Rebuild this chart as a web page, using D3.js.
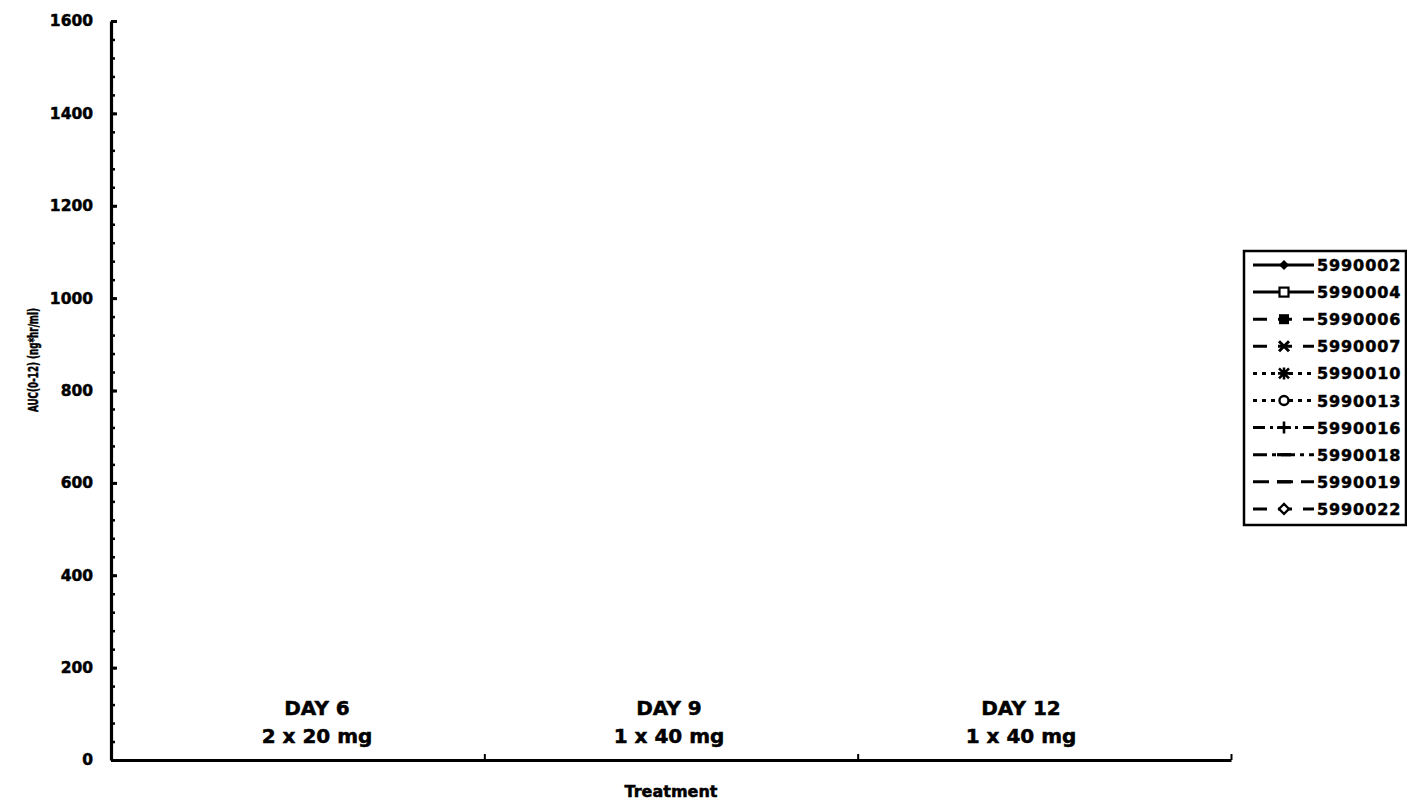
<!DOCTYPE html>
<html>
<head>
<meta charset="utf-8">
<script src="https://cdn.jsdelivr.net/npm/d3@7"></script>
<style>
  html, body { margin: 0; padding: 0; background: #fff; }
  svg text { font-family: "DejaVu Sans", "Liberation Sans", sans-serif; font-weight: bold; fill: #000; stroke: #000; stroke-width: 0.5px; }
</style>
</head>
<body>
<svg id="chart" width="1407" height="802"></svg>
<script>
// Treatment periods (x categories)
const treatments = ["DAY 6", "DAY 9", "DAY 12"];
const doses = ["2 x 20 mg", "1 x 40 mg", "1 x 40 mg"];

// Subjects shown in the legend
const subjects = ["5990002", "5990004", "5990006", "5990007", "5990010",
                  "5990013", "5990016", "5990018", "5990019", "5990022"];

// AUC(0-12) per subject for DAY 6, DAY 9, DAY 12 (no values plotted)
const auc5990002 = [null, null, null];
const auc5990004 = [null, null, null];
const auc5990006 = [null, null, null];
const auc5990007 = [null, null, null];
const auc5990010 = [null, null, null];
const auc5990013 = [null, null, null];
const auc5990016 = [null, null, null];
const auc5990018 = [null, null, null];
const auc5990019 = [null, null, null];
const auc5990022 = [null, null, null];
const aucSeries = [auc5990002, auc5990004, auc5990006, auc5990007, auc5990010,
                   auc5990013, auc5990016, auc5990018, auc5990019, auc5990022];

// Axis ticks
const yMajorTicks = [0, 200, 400, 600, 800, 1000, 1200, 1400, 1600];
const yMinorTicks = d3.range(0, 1601, 40);

// Line / marker style per subject
const styles = [
  { dash: null,         marker: "diamondFilled" },
  { dash: null,         marker: "squareOpen" },
  { dash: "14,11",      marker: "squareFilled" },
  { dash: "14,11",      marker: "cross" },
  { dash: "4,5",        marker: "star" },
  { dash: "4,5",        marker: "circleOpen" },
  { dash: "12,5,3,5",   marker: "plus" },
  { dash: "14,5,4,5",   marker: "dash" },
  { dash: "16,8",       marker: "dash" },
  { dash: "14,11",      marker: "diamondOpen" }
];

const svg = d3.select("#chart");
const plotLeft = 111, plotRight = 1231, plotTop = 21, plotBottom = 760;

const y = d3.scaleLinear().domain([0, 1600]).range([plotBottom, plotTop]);
const x = d3.scaleBand().domain(treatments).range([plotLeft, plotRight]);
const xEdge = d3.scaleLinear().domain([0, treatments.length]).range([plotLeft, plotRight]);
const xLabel = d3.scalePoint().domain(treatments).range([317, 1021]);

// Minor y ticks
svg.append("g")
  .attr("transform", `translate(${plotLeft},0)`)
  .call(d3.axisLeft(y).tickValues(yMinorTicks).tickSize(-4).tickSizeOuter(0).tickFormat(""))
  .call(g => g.select(".domain").remove())
  .call(g => g.selectAll("line").attr("stroke", "#000").attr("stroke-width", 2.5));

// Major y ticks and labels
const yAxis = svg.append("g")
  .attr("transform", `translate(${plotLeft},0)`)
  .call(d3.axisLeft(y).tickValues(yMajorTicks).tickFormat(d3.format("d"))
    .tickSize(-6).tickSizeOuter(0).tickPadding(18));
yAxis.select(".domain").attr("stroke", "#000").attr("stroke-width", 3.2);
yAxis.selectAll("line").attr("stroke", "#000").attr("stroke-width", 3);
yAxis.selectAll("text")
  .attr("font-size", null)
  .style("font-size", "15.5px")
  .style("font-family", "'DejaVu Sans', sans-serif")
  .style("font-weight", "bold")
  .attr("fill", "#000");

// X axis with ticks at category boundaries
const xAxis = svg.append("g")
  .attr("transform", `translate(0,${plotBottom})`)
  .call(d3.axisBottom(xEdge).tickValues([1, 2, 3]).tickSize(-6).tickSizeOuter(0).tickFormat(""));
xAxis.select(".domain").attr("stroke", "#000").attr("stroke-width", 3.2);
xAxis.selectAll("line").attr("stroke", "#000").attr("stroke-width", 2);

// Category labels inside the plot
svg.append("g").selectAll("text")
  .data(treatments)
  .join("text")
  .attr("x", d => xLabel(d))
  .attr("y", 715)
  .attr("text-anchor", "middle")
  .style("font-size", "20px")
  .text(d => d);
svg.append("g").selectAll("text")
  .data(doses)
  .join("text")
  .attr("x", (d, i) => xLabel(treatments[i]))
  .attr("y", 743)
  .attr("text-anchor", "middle")
  .style("font-size", "20px")
  .text(d => d);

// Axis titles
svg.append("text")
  .attr("x", (plotLeft + plotRight) / 2)
  .attr("y", 797)
  .attr("text-anchor", "middle")
  .style("font-size", "16px")
  .text("Treatment");

svg.append("text")
  .attr("transform", "translate(38,360) rotate(-90)")
  .attr("text-anchor", "middle")
  .attr("textLength", 104)
  .attr("lengthAdjust", "spacingAndGlyphs")
  .style("font-size", "14px")
  .text("AUC(0-12) (ng*hr/ml)");

// Marker drawing helper
function drawMarker(g, type, cx, cy) {
  const s = 5;
  switch (type) {
    case "diamondFilled":
      g.append("path").attr("d", `M${cx},${cy - s}L${cx + s},${cy}L${cx},${cy + s}L${cx - s},${cy}Z`).attr("fill", "#000");
      break;
    case "diamondOpen":
      g.append("path").attr("d", `M${cx},${cy - s}L${cx + s},${cy}L${cx},${cy + s}L${cx - s},${cy}Z`)
        .attr("fill", "#fff").attr("stroke", "#000").attr("stroke-width", 2.2);
      break;
    case "squareOpen":
      g.append("rect").attr("x", cx - 4.5).attr("y", cy - 4.5).attr("width", 9).attr("height", 9)
        .attr("fill", "#fff").attr("stroke", "#000").attr("stroke-width", 2.2);
      break;
    case "squareFilled":
      g.append("rect").attr("x", cx - 5).attr("y", cy - 5).attr("width", 10).attr("height", 10).attr("fill", "#000");
      break;
    case "cross":
      g.append("path").attr("d", `M${cx - 5},${cy - 5}L${cx + 5},${cy + 5}M${cx - 5},${cy + 5}L${cx + 5},${cy - 5}`)
        .attr("stroke", "#000").attr("stroke-width", 3);
      break;
    case "star":
      g.append("path").attr("d", `M${cx - 5},${cy - 5}L${cx + 5},${cy + 5}M${cx - 5},${cy + 5}L${cx + 5},${cy - 5}M${cx - 6},${cy}L${cx + 6},${cy}M${cx},${cy - 6}L${cx},${cy + 6}`)
        .attr("stroke", "#000").attr("stroke-width", 2.6);
      break;
    case "circleOpen":
      g.append("circle").attr("cx", cx).attr("cy", cy).attr("r", 4.5)
        .attr("fill", "#fff").attr("stroke", "#000").attr("stroke-width", 2.4);
      break;
    case "plus":
      g.append("path").attr("d", `M${cx - 7},${cy}L${cx + 7},${cy}M${cx},${cy - 6}L${cx},${cy + 6}`)
        .attr("stroke", "#000").attr("stroke-width", 2.6);
      break;
    case "dash":
      g.append("path").attr("d", `M${cx - 7},${cy}L${cx + 7},${cy}`)
        .attr("stroke", "#000").attr("stroke-width", 3.2);
      break;
  }
}

// Subject lines (only defined points are drawn)
const line = d3.line()
  .defined(d => d.v != null)
  .x(d => x(d.t) + x.bandwidth() / 2)
  .y(d => y(d.v));

const plot = svg.append("g");
aucSeries.forEach((vals, i) => {
  const pts = vals.map((v, j) => ({ t: treatments[j], v }));
  plot.append("path")
    .datum(pts)
    .attr("d", line)
    .attr("fill", "none")
    .attr("stroke", "#000")
    .attr("stroke-width", 2.5)
    .attr("stroke-dasharray", styles[i].dash);
  const mg = plot.append("g");
  pts.filter(p => p.v != null).forEach(p => drawMarker(mg, styles[i].marker, x(p.t) + x.bandwidth() / 2, y(p.v)));
});

// Legend
const legend = svg.append("g");
const lgTop = 251, lgLeft = 1244, lgRow = 27.1;
legend.append("rect")
  .attr("x", lgLeft).attr("y", lgTop)
  .attr("width", 162).attr("height", 274)
  .attr("fill", "#fff").attr("stroke", "#000").attr("stroke-width", 2.5);

subjects.forEach((name, i) => {
  const cy = lgTop + 14 + i * lgRow;
  const g = legend.append("g");
  g.append("line")
    .attr("x1", 1253).attr("x2", 1314)
    .attr("y1", cy).attr("y2", cy)
    .attr("stroke", "#000").attr("stroke-width", 3)
    .attr("stroke-dasharray", styles[i].dash);
  drawMarker(g, styles[i].marker, 1284, cy);
  g.append("text")
    .attr("x", 1317).attr("y", cy + 6)
    .style("font-size", "16px")
    .style("letter-spacing", "0.9px")
    .text(name);
});
</script>
</body>
</html>
